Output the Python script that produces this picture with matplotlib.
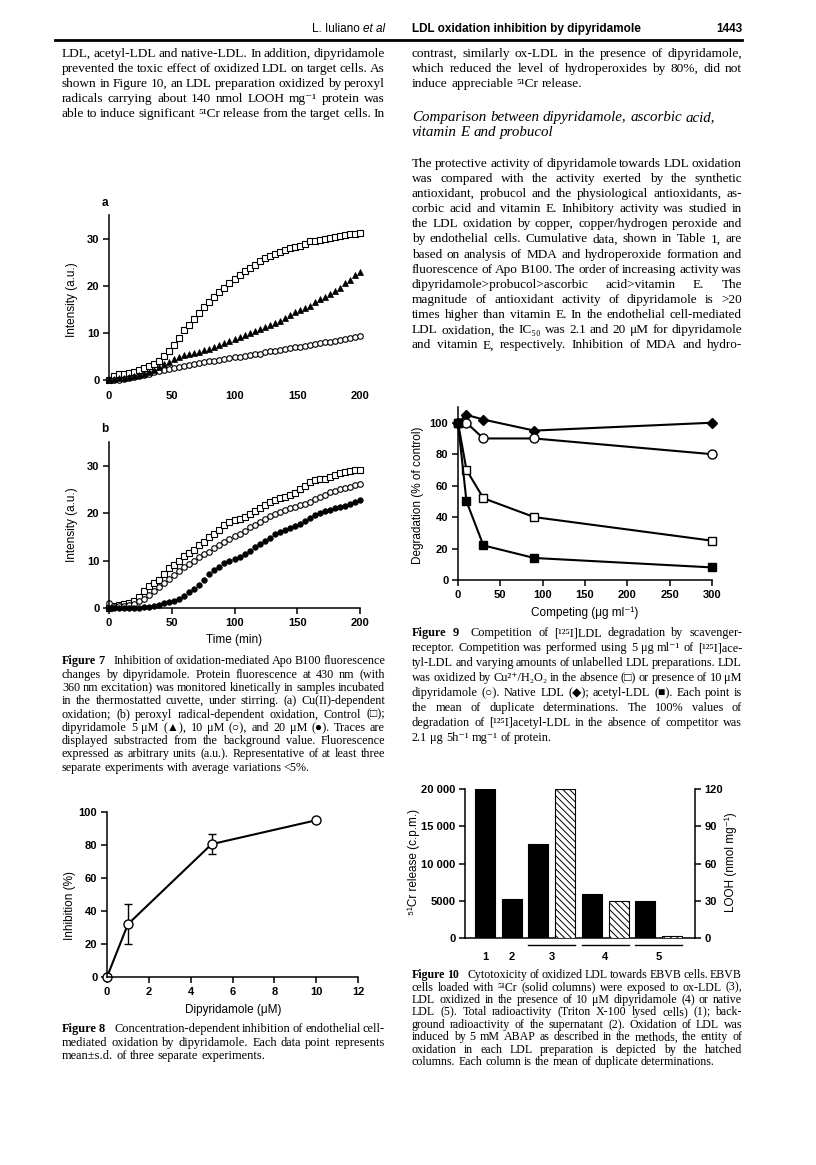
import numpy as np
import matplotlib
matplotlib.use('Agg')
import matplotlib.pyplot as plt
import matplotlib.transforms as mtransforms

# ---------------- data ----------------
time_min = list(range(0, 201, 4))

# Figure 7a (Cu(II)-dependent oxidation)
fig7a_control = [0.0, 0.8, 1.2, 1.3, 1.4, 1.6, 2.1, 2.6, 3.0, 3.4, 4.0, 5.0, 6.2, 7.5, 9.0, 10.5,
                 11.7, 12.9, 14.2, 15.5, 16.6, 17.6, 18.6, 19.6, 20.5, 21.4, 22.3, 23.1, 23.8, 24.5,
                 25.2, 25.8, 26.2, 26.7, 27.2, 27.6, 28.0, 28.3, 28.5, 28.9, 29.4, 29.5, 29.6, 29.9,
                 30.2, 30.4, 30.6, 30.8, 30.9, 31.0, 31.2]
fig7a_dip5 = [0.2, 0.3, 0.4, 0.5, 0.6, 0.8, 1.0, 1.3, 1.7, 2.2, 2.8, 3.4, 3.9, 4.4, 4.8, 5.2,
              5.5, 5.8, 6.0, 6.3, 6.6, 7.0, 7.4, 7.8, 8.2, 8.6, 9.1, 9.6, 10.0, 10.4, 10.9, 11.3,
              11.7, 12.1, 12.6, 13.1, 13.8, 14.4, 14.9, 15.3, 15.8, 16.5, 17.2, 17.6, 18.2, 18.9,
              19.6, 20.5, 21.3, 22.2, 23.0]
fig7a_dip10 = [0.1, 0.0, 0.1, 0.3, 0.5, 0.6, 0.8, 1.0, 1.3, 1.6, 1.9, 2.2, 2.4, 2.6, 2.8, 3.0,
               3.2, 3.4, 3.6, 3.8, 4.0, 4.1, 4.2, 4.4, 4.6, 4.8, 4.9, 5.1, 5.3, 5.5, 5.6, 5.9,
               6.2, 6.2, 6.3, 6.5, 6.7, 6.9, 7.1, 7.2, 7.4, 7.7, 7.9, 8.0, 8.1, 8.3, 8.5, 8.8,
               9.0, 9.2, 9.4]

# Figure 7b (peroxyl radical-dependent oxidation)
fig7b_control = [0.0, 0.4, 0.6, 0.8, 1.1, 1.5, 2.3, 3.6, 4.6, 5.2, 5.8, 7.2, 8.5, 9.1, 10.0, 11.0,
                 11.5, 12.3, 13.2, 13.9, 14.9, 15.6, 16.4, 17.4, 18.2, 18.5, 18.7, 19.2, 19.8, 20.4,
                 21.0, 21.8, 22.4, 22.8, 23.1, 23.4, 23.8, 24.3, 25.0, 25.8, 26.6, 26.9, 27.1, 27.3,
                 27.6, 28.0, 28.5, 28.7, 28.9, 29.0, 29.2]
fig7b_dip10 = [1.0, 0.3, 0.4, 0.5, 0.6, 0.9, 1.4, 2.0, 2.7, 3.6, 4.4, 5.3, 6.2, 7.0, 7.8, 8.6,
               9.3, 10.0, 10.7, 11.4, 11.9, 12.6, 13.2, 14.0, 14.6, 15.1, 15.6, 16.3, 17.0, 17.6,
               18.1, 18.8, 19.3, 19.8, 20.2, 20.6, 21.0, 21.3, 21.7, 22.0, 22.4, 22.9, 23.4, 23.9,
               24.4, 24.7, 25.0, 25.3, 25.6, 25.9, 26.2]
fig7b_dip20 = [0.0, 0.0, 0.0, 0.0, 0.0, 0.0, 0.1, 0.2, 0.3, 0.5, 0.7, 1.0, 1.2, 1.5, 1.9, 2.6,
               3.4, 4.1, 4.9, 5.9, 7.1, 8.0, 8.7, 9.4, 9.9, 10.3, 10.8, 11.4, 12.1, 12.8, 13.4,
               14.1, 14.8, 15.5, 16.0, 16.5, 16.9, 17.3, 17.7, 18.3, 18.9, 19.6, 20.1, 20.4, 20.6,
               21.0, 21.3, 21.6, 22.0, 22.3, 22.7]

# Figure 8
dip_conc = [0, 1, 5, 10]
inhibition = [0, 32, 80.5, 95]
inhibition_sd = [0, 12, 6, 1.2]

# Figure 9
competing = [0, 10, 30, 90, 300]
native_ldl = [100, 105, 102, 95, 100]
oxldl_dip = [100, 100, 90, 90, 80]
oxldl = [100, 70, 52, 40, 25]
acetyl_ldl = [100, 50, 22, 14, 8]

# Figure 10
groups = ['1', '2', '3', '4', '5']
cr_release = [20000, 5200, 12600, 5900, 5000]   # solid columns, groups 1..5
looh = [120, 30, 1.5]                           # hatched columns, groups 3..5

# ---------------- figure ----------------
W, H = 816, 1165
fig = plt.figure(figsize=(W / 100, H / 100), dpi=100)
renderer = fig.canvas.get_renderer()

SERIF = ['Liberation Serif', 'DejaVu Serif', 'DejaVu Sans']
SANS = ['Liberation Sans', 'DejaVu Sans']
NARROW = ['Liberation Sans Narrow', 'Liberation Sans', 'DejaVu Sans']

FIT_SPACE = 0.18   # tightest word space (em) allowed in justified lines
NORM_SPACE = 0.25  # word space (em) of ragged lines
BOLD_GAP = 0.55    # extra space (em) after the bold figure number


def fx(x):
    return x / W


def fy(y):
    return 1 - y / H


def add_ax(x0, x1, yb, yt):
    return fig.add_axes([fx(x0), fy(yb), (x1 - x0) / W, (yb - yt) / H])


def measure(s, **kw):
    t = fig.text(0, 0, s, **kw)
    w = t.get_window_extent(renderer).width
    t.remove()
    return w


def em(size):
    return size * 100 / 72


def word_kws(words, size, nbold, italic):
    kws = []
    for i, w in enumerate(words):
        kw = dict(fontsize=size, family=SERIF)
        if i < nbold:
            kw['fontweight'] = 'bold'
        if italic:
            kw['fontstyle'] = 'italic'
        kws.append(kw)
    return kws


def natural_width(text, size, nbold=0, italic=False, space=FIT_SPACE):
    words = text.split()
    kws = word_kws(words, size, nbold, italic)
    w = sum(measure(wd, **k) for wd, k in zip(words, kws))
    w += em(size) * space * (len(words) - 1)
    if nbold:
        w += em(size) * BOLD_GAP
    return w


def draw_line(text, x0, x1, yc, size=9, justify=True, nbold=0, italic=False):
    words = text.split()
    kws = word_kws(words, size, nbold, italic)
    widths = [measure(w, **k) for w, k in zip(words, kws)]
    extra = em(size) * BOLD_GAP if nbold else 0
    if justify and len(words) > 1:
        gap = (x1 - x0 - sum(widths) - extra) / (len(words) - 1)
    else:
        gap = em(size) * NORM_SPACE
    x = x0
    base = yc + size * 0.38
    for i, (w, kw, wd) in enumerate(zip(words, kws, widths)):
        fig.text(fx(x), fy(base), w, ha='left', va='baseline', **kw)
        x += wd + gap
        if nbold and i == nbold - 1:
            x += extra


def draw_par(lines, x0, x1, y0, step, size=9, last_justify=False, nbold=0, italic=False,
             fit=True):
    n = len(lines)
    if fit:
        ratios = []
        for i, ln in enumerate(lines):
            just = (i < n - 1) or last_justify
            if just:
                nw = natural_width(ln, size, nbold if i == 0 else 0, italic)
                ratios.append((x1 - x0) / nw)
        if ratios:
            size = size * min(ratios) * 0.997
    for i, ln in enumerate(lines):
        just = (i < n - 1) or last_justify
        draw_line(ln, x0, x1, y0 + i * step, size=size, justify=just,
                  nbold=nbold if i == 0 else 0, italic=italic)
    return size


def style_axes(ax, bottom=True):
    for s in ['top', 'right']:
        ax.spines[s].set_visible(False)
    ax.spines['left'].set_linewidth(1.1)
    ax.spines['bottom'].set_linewidth(1.1)
    if not bottom:
        ax.spines['bottom'].set_visible(False)
    ax.tick_params(direction='out', length=4, width=1.1, labelsize=8, pad=3)
    for lab in ax.get_xticklabels() + ax.get_yticklabels():
        lab.set_fontfamily(SANS)
        lab.set_fontweight('bold')


# ---------------- header ----------------
hy = 29
wal = measure('et al', fontsize=8.5, family=NARROW, fontstyle='italic')
fig.text(fx(385 - wal), fy(hy), 'L. Iuliano ', ha='right', va='center', fontsize=8.5,
         family=NARROW)
fig.text(fx(385), fy(hy), 'et al', ha='right', va='center', fontsize=8.5, family=NARROW,
         fontstyle='italic')
fig.text(fx(412), fy(hy), 'LDL oxidation inhibition by dipyridamole', ha='left', va='center',
         fontsize=8.5, family=NARROW, fontweight='bold')
fig.text(fx(742), fy(hy), '1443', ha='right', va='center', fontsize=8.5, family=NARROW,
         fontweight='bold')
fig.add_artist(plt.Line2D([fx(55), fx(742)], [fy(40), fy(40)], color='black', lw=2))

# ---------------- body text ----------------
left_body = [
    'LDL, acetyl-LDL and native-LDL. In addition, dipyridamole',
    'prevented the toxic effect of oxidized LDL on target cells. As',
    'shown in Figure 10, an LDL preparation oxidized by peroxyl',
    'radicals carrying about 140 nmol LOOH mg\u207b\u00b9 protein was',
    'able to induce significant \u2075\u00b9Cr release from the target cells. In',
]
body_size = draw_par(left_body, 62, 385, 53, 15.2, size=10, last_justify=True)

right_top = [
    'contrast, similarly ox-LDL in the presence of dipyridamole,',
    'which reduced the level of hydroperoxides by 80%, did not',
    'induce appreciable \u2075\u00b9Cr release.',
]
draw_par(right_top, 412, 742, 53, 15.2, size=body_size, fit=False)

heading = ['Comparison between dipyridamole, ascorbic acid,', 'vitamin E and probucol']
for i, ln in enumerate(heading):
    draw_line(ln, 412, 742, 117 + 15.2 * i, size=body_size * 1.12, justify=False, italic=True)

right_par = [
    'The protective activity of dipyridamole towards LDL oxidation',
    'was compared with the activity exerted by the synthetic',
    'antioxidant, probucol and the physiological antioxidants, as-',
    'corbic acid and vitamin E. Inhibitory activity was studied in',
    'the LDL oxidation by copper, copper/hydrogen peroxide and',
    'by endothelial cells. Cumulative data, shown in Table 1, are',
    'based on analysis of MDA and hydroperoxide formation and',
    'fluorescence of Apo B100. The order of increasing activity was',
    'dipyridamole>probucol>ascorbic acid>vitamin E. The',
    'magnitude of antioxidant activity of dipyridamole is >20',
    'times higher than vitamin E. In the endothelial cell-mediated',
    'LDL oxidation, the IC\u2085\u2080 was 2.1 and 20 \u03bcM for dipyridamole',
    'and vitamin E, respectively. Inhibition of MDA and hydro-',
]
draw_par(right_par, 412, 742, 163, 15.15, size=10, last_justify=True)

# ---------------- Figure 7a ----------------
ax = add_ax(109, 360, 380, 215)
ax.plot(time_min, fig7a_control, ls='none', marker='s', ms=3.8, mfc='white', mec='black',
        mew=0.8, clip_on=False)
ax.plot(time_min, fig7a_dip10, ls='none', marker='o', ms=4.0, mfc='white', mec='black',
        mew=0.8, clip_on=False)
ax.plot(time_min, fig7a_dip5, ls='none', marker='^', ms=4.4, mfc='black', mec='black',
        mew=0.5, clip_on=False)
ax.set_xlim(0, 200)
ax.set_ylim(0, 35)
ax.set_xticks([0, 50, 100, 150, 200])
ax.set_yticks([0, 10, 20, 30])
style_axes(ax, bottom=False)
ax.tick_params(axis='x', length=0, pad=8)
fig.text(fx(105), fy(203), 'a', fontsize=8.5, fontweight='bold', family=SANS, ha='center',
         va='center')
fig.text(fx(72), fy(300), 'Intensity (a.u.)', rotation=90, fontsize=8.5, family=SANS,
         ha='center', va='center')

# ---------------- Figure 7b ----------------
ax = add_ax(109, 360, 608, 442)
ax.plot(time_min, fig7b_control, ls='none', marker='s', ms=3.8, mfc='white', mec='black',
        mew=0.8, clip_on=False)
ax.plot(time_min, fig7b_dip10, ls='none', marker='o', ms=4.0, mfc='white', mec='black',
        mew=0.8, clip_on=False)
ax.plot(time_min, fig7b_dip20, ls='none', marker='o', ms=4.0, mfc='black', mec='black',
        mew=0.5, clip_on=False)
ax.set_xlim(0, 200)
ax.set_ylim(0, 35)
ax.set_xticks([0, 50, 100, 150, 200])
ax.set_yticks([0, 10, 20, 30])
style_axes(ax)
fig.text(fx(105), fy(429), 'b', fontsize=8.5, fontweight='bold', family=SANS, ha='center',
         va='center')
fig.text(fx(72), fy(525), 'Intensity (a.u.)', rotation=90, fontsize=8.5, family=SANS,
         ha='center', va='center')
fig.text(fx(234), fy(640), 'Time (min)', fontsize=8.5, family=SANS, ha='center', va='center')

fig7_cap = [
    'Figure 7  Inhibition of oxidation-mediated Apo B100 fluorescence',
    'changes by dipyridamole. Protein fluorescence at 430\u2009nm (with',
    '360\u2009nm excitation) was monitored kinetically in samples incubated',
    'in the thermostatted cuvette, under stirring. (a) Cu(II)-dependent',
    'oxidation; (b) peroxyl radical-dependent oxidation, Control (\u25a1);',
    'dipyridamole 5\u2009\u03bcM (\u25b2), 10\u2009\u03bcM (\u25cb), and 20\u2009\u03bcM (\u25cf). Traces are',
    'displayed substracted from the background value. Fluorescence',
    'expressed as arbitrary units (a.u.). Representative of at least three',
    'separate experiments with average variations <5%.',
]
draw_par(fig7_cap, 62, 385, 661, 13.3, size=9, nbold=2)

# ---------------- Figure 8 ----------------
ax = add_ax(107, 358, 977, 812)
ax.errorbar(dip_conc, inhibition, yerr=inhibition_sd, color='black', lw=1.5, elinewidth=1,
            capsize=3, capthick=1, marker='o', ms=6.5, mfc='white', mec='black', mew=1,
            clip_on=False)
ax.set_xlim(0, 12)
ax.set_ylim(0, 100)
ax.set_xticks(range(0, 13, 2))
ax.set_yticks(range(0, 101, 20))
style_axes(ax)
fig.text(fx(70), fy(905), 'Inhibition (%)', rotation=90, fontsize=8.5, family=SANS,
         ha='center', va='center')
fig.text(fx(233), fy(1010), 'Dipyridamole (\u03bcM)', fontsize=8.5, family=SANS, ha='center',
         va='center')

fig8_cap = [
    'Figure 8  Concentration-dependent inhibition of endothelial cell-',
    'mediated oxidation by dipyridamole. Each data point represents',
    'mean\u00b1s.d. of three separate experiments.',
]
draw_par(fig8_cap, 62, 385, 1029, 13.3, size=9, nbold=2)

# ---------------- Figure 9 ----------------
ax = add_ax(458, 712, 580, 407)
ax.plot(competing, native_ldl, color='black', lw=1.5, marker='D', ms=5, mfc='black',
        mec='black', clip_on=False)
ax.plot(competing, oxldl_dip, color='black', lw=1.5, marker='o', ms=6.5, mfc='white',
        mec='black', mew=1, clip_on=False)
ax.plot(competing, oxldl, color='black', lw=1.5, marker='s', ms=6, mfc='white', mec='black',
        mew=1, clip_on=False)
ax.plot(competing, acetyl_ldl, color='black', lw=1.5, marker='s', ms=6, mfc='black',
        mec='black', clip_on=False)
ax.set_xlim(0, 300)
ax.set_ylim(0, 110)
ax.set_xticks(range(0, 301, 50))
ax.set_yticks(range(0, 101, 20))
style_axes(ax)
fig.text(fx(418), fy(495), 'Degradation (% of control)', rotation=90, fontsize=8.5,
         family=SANS, ha='center', va='center')
fig.text(fx(585), fy(613), 'Competing (\u03bcg ml\u207b\u00b9)', fontsize=8.5, family=SANS,
         ha='center', va='center')

fig9_cap = [
    'Figure 9  Competition of [\u00b9\u00b2\u2075I]LDL degradation by scavenger-',
    'receptor. Competition was performed using 5\u2009\u03bcg\u2009ml\u207b\u00b9 of [\u00b9\u00b2\u2075I]ace-',
    'tyl-LDL and varying amounts of unlabelled LDL preparations. LDL',
    'was oxidized by Cu\u00b2\u207a/H\u2082O\u2082 in the absence (\u25a1) or presence of 10\u2009\u03bcM',
    'dipyridamole (\u25cb). Native LDL (\u25c6); acetyl-LDL (\u25a0). Each point is',
    'the mean of duplicate determinations. The 100% values of',
    'degradation of [\u00b9\u00b2\u2075I]acetyl-LDL in the absence of competitor was',
    '2.1\u2009\u03bcg\u20095h\u207b\u00b9\u2009mg\u207b\u00b9 of protein.',
]
draw_par(fig9_cap, 412, 742, 633, 14.9, size=9, nbold=2)

# ---------------- Figure 10 ----------------
ax = add_ax(465, 695, 938, 789)
solid_pos = [0, 1, 2, 4, 6]
hatch_pos = [3, 5, 7]
ax.bar(solid_pos, cr_release, width=0.75, color='black', edgecolor='black', lw=0.8)
ax.set_xlim(-0.75, 7.86)
ax.set_ylim(0, 20000)
ax.set_yticks([0, 5000, 10000, 15000, 20000])
ax.set_yticklabels(['0', '5000', '10 000', '15 000', '20 000'])
ax.set_xticks([0, 1, 2.5, 4.5, 6.5])
ax.set_xticklabels(groups)
style_axes(ax)
ax.tick_params(axis='x', length=0, pad=10)
ax2 = ax.twinx()
plt.rcParams['hatch.linewidth'] = 0.7
ax2.bar(hatch_pos, looh, width=0.75, color='white', edgecolor='black', lw=0.8,
        hatch='\\\\\\\\\\')
ax2.set_ylim(0, 120)
ax2.set_yticks([0, 30, 60, 90, 120])
for s in ['top', 'left', 'bottom']:
    ax2.spines[s].set_visible(False)
ax2.spines['right'].set_linewidth(1.1)
ax2.tick_params(direction='out', length=4, width=1.1, labelsize=8, pad=3)
for lab in ax2.get_yticklabels():
    lab.set_fontfamily(SANS)
    lab.set_fontweight('bold')
trans = mtransforms.blended_transform_factory(ax.transData, ax.transAxes)
for p in [2, 4, 6]:
    ax.plot([p - 0.375, p + 1.375], [-0.05, -0.05], color='black', lw=1, transform=trans,
            clip_on=False)
fig.text(fx(414), fy(862), '\u2075\u00b9Cr release (c.p.m.)', rotation=90, fontsize=8.5,
         family=SANS, ha='center', va='center')
fig.text(fx(731), fy(862), 'LOOH (nmol mg\u207b\u00b9)', rotation=90, fontsize=8.5,
         family=SANS, ha='center', va='center')

fig10_cap = [
    'Figure 10  Cytotoxicity of oxidized LDL towards EBVB cells. EBVB',
    'cells loaded with \u2075\u00b9Cr (solid columns) were exposed to ox-LDL (3),',
    'LDL oxidized in the presence of 10\u2009\u03bcM dipyridamole (4) or native',
    'LDL (5). Total radioactivity (Triton X-100 lysed cells) (1); back-',
    'ground radioactivity of the supernatant (2). Oxidation of LDL was',
    'induced by 5\u2009mM ABAP as described in the methods, the entity of',
    'oxidation in each LDL preparation is depicted by the hatched',
    'columns. Each column is the mean of duplicate determinations.',
]
draw_par(fig10_cap, 412, 742, 975, 12.4, size=9, nbold=2)

fig.savefig('out.png', dpi=100)
